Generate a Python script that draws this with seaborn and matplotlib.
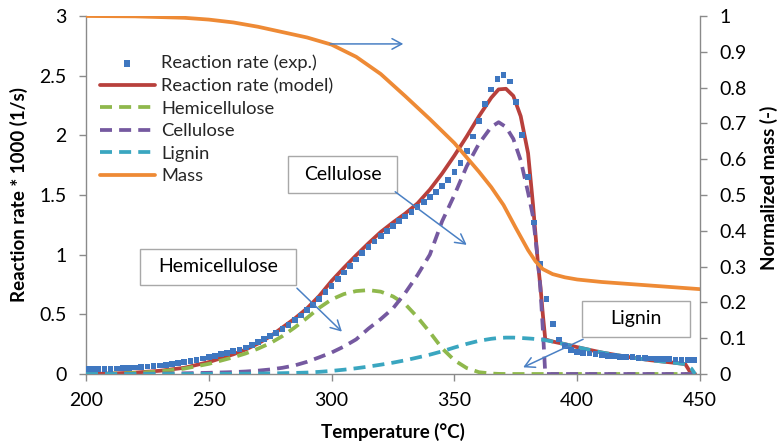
import numpy as np
import matplotlib
matplotlib.use("Agg")
import matplotlib.pyplot as plt
from matplotlib.patches import Rectangle
from matplotlib.ticker import FuncFormatter
import seaborn as sns

# ---------------------------------------------------------------- data
# Measured reaction rate (x1000, 1/s), sampled every 2.5 degC from 200 to 447.5
T_exp = np.arange(200.0, 450.0, 2.5)
rate_exp = [
    0.040, 0.041, 0.042, 0.043, 0.044, 0.046, 0.048, 0.051, 0.054, 0.058,   # 200-222.5
    0.062, 0.067, 0.072, 0.078, 0.085, 0.093, 0.101, 0.110, 0.120, 0.131,   # 225-247.5
    0.142, 0.153, 0.165, 0.177, 0.190, 0.205, 0.222, 0.245, 0.268, 0.292,   # 250-272.5
    0.318, 0.346, 0.377, 0.411, 0.450, 0.490, 0.535, 0.580, 0.630, 0.685,   # 275-297.5
    0.740, 0.795, 0.850, 0.905, 0.960, 1.015, 1.065, 1.110, 1.155, 1.200,   # 300-322.5
    1.240, 1.280, 1.320, 1.360, 1.400, 1.442, 1.485, 1.528, 1.573, 1.625,   # 325-347.5
    1.690, 1.770, 1.870, 1.990, 2.120, 2.260, 2.385, 2.470, 2.505, 2.450,   # 350-372.5
    2.280, 2.000, 1.650, 1.270, 0.920, 0.630, 0.420, 0.290, 0.235, 0.203,   # 375-397.5
    0.185, 0.178, 0.172, 0.165, 0.158, 0.153, 0.149, 0.145, 0.142, 0.140,   # 400-422.5
    0.137, 0.134, 0.131, 0.128, 0.125, 0.123, 0.121, 0.120, 0.119, 0.118,   # 425-447.5
]

# Model curves (x1000, 1/s)
T_model = [
    200, 210, 220, 230, 240, 250, 260, 265,
    270, 275, 280, 285, 290, 295, 300, 305,
    310, 315, 320, 325, 330, 335, 340, 345,
    350, 355, 360, 365, 368, 371, 374, 377,
    380, 382, 384, 385, 386, 387, 390, 395,
    400, 410, 420, 430, 440, 444, 446.5, 448,
]
rate_model = [
    0.000, 0.004, 0.012, 0.027, 0.052, 0.100, 0.165, 0.205,
    0.255, 0.315, 0.390, 0.465, 0.550, 0.655, 0.780, 0.890,
    0.995, 1.095, 1.190, 1.270, 1.345, 1.430, 1.545, 1.680,
    1.830, 1.990, 2.160, 2.315, 2.385, 2.390, 2.330, 2.160,
    1.850, 1.420, 0.930, 0.740, 0.500, 0.290, 0.272, 0.250,
    0.225, 0.180, 0.145, 0.115, 0.093, 0.083, 0.000, 0.000,
]
hemicellulose = [
    0.000, 0.003, 0.009, 0.021, 0.045, 0.085, 0.140, 0.172,
    0.212, 0.258, 0.318, 0.390, 0.470, 0.555, 0.625, 0.670,
    0.695, 0.703, 0.690, 0.650, 0.585, 0.475, 0.350, 0.215,
    0.115, 0.050, 0.015, 0.004, 0.001, 0.000, 0.000, 0.000,
    0.000, 0.000, 0.000, 0.000, 0.000, 0.000, 0.000, 0.000,
    0.000, 0.000, 0.000, 0.000, 0.000, 0.000, 0.000, 0.000,
]
cellulose = [
    0.000, 0.000, 0.001, 0.003, 0.006, 0.010, 0.016, 0.021,
    0.028, 0.038, 0.052, 0.072, 0.102, 0.140, 0.180, 0.230,
    0.290, 0.380, 0.460, 0.550, 0.680, 0.830, 1.000, 1.280,
    1.500, 1.740, 1.930, 2.070, 2.110, 2.070, 1.970, 1.790,
    1.520, 1.320, 0.950, 0.720, 0.380, 0.000, 0.000, 0.000,
    0.000, 0.000, 0.000, 0.000, 0.000, 0.000, 0.000, 0.000,
]
lignin = [
    0.000, 0.000, 0.000, 0.000, 0.000, 0.001, 0.002, 0.003,
    0.004, 0.005, 0.007, 0.009, 0.012, 0.018, 0.026, 0.036,
    0.048, 0.062, 0.078, 0.095, 0.115, 0.138, 0.162, 0.190,
    0.222, 0.252, 0.278, 0.295, 0.302, 0.305, 0.305, 0.302,
    0.298, 0.295, 0.291, 0.289, 0.287, 0.284, 0.272, 0.250,
    0.225, 0.180, 0.145, 0.115, 0.093, 0.083, 0.045, 0.000,
]

# Normalized sample mass (right axis)
T_mass = [200, 220, 240, 250, 260, 270, 280, 290, 300, 310,
          320, 330, 340, 350, 360, 365, 370, 375, 380, 383,
          386, 390, 395, 400, 410, 420, 430, 440, 450]
mass = [1.000, 0.999, 0.995, 0.990, 0.982, 0.970, 0.955, 0.940, 0.920, 0.886,
        0.838, 0.776, 0.712, 0.645, 0.565, 0.522, 0.472, 0.408, 0.346, 0.315,
        0.293, 0.279, 0.270, 0.264, 0.257, 0.252, 0.247, 0.242, 0.237]

x_ticks = [200, 250, 300, 350, 400, 450]
y_ticks = [0, 0.5, 1, 1.5, 2, 2.5, 3]
y2_ticks = [0, 0.1, 0.2, 0.3, 0.4, 0.5, 0.6, 0.7, 0.8, 0.9, 1]

# ---------------------------------------------------------------- style
sns.set_style("ticks")
plt.rcParams["font.family"] = ["Lato", "DejaVu Sans"]

C_EXP = "#3f77c0"
C_MODEL = "#b8403c"
C_HEMI = "#8fb84c"
C_CELL = "#7559a0"
C_LIG = "#3aa6c0"
C_MASS = "#ee8a35"
C_ARROW = "#4a80c4"
C_AXIS = "#8a8a8a"

fig = plt.figure(figsize=(7.77, 4.48), dpi=100)
ax = fig.add_axes([86 / 777, 1 - 374 / 448, 614 / 777, 358 / 448])
ax2 = ax.twinx()

LW = 2.7
DASH = (0, (3.2, 1.9))

sns.lineplot(x=T_model, y=rate_model, ax=ax, color=C_MODEL, linewidth=LW,
             label="Reaction rate (model)", legend=False, zorder=2,
             estimator=None, sort=False)
sns.lineplot(x=T_model, y=hemicellulose, ax=ax, color=C_HEMI, linewidth=LW,
             linestyle=DASH, label="Hemicellulose", legend=False, zorder=3,
             estimator=None, sort=False)
sns.lineplot(x=T_model, y=cellulose, ax=ax, color=C_CELL, linewidth=LW,
             linestyle=DASH, label="Cellulose", legend=False, zorder=4,
             estimator=None, sort=False)
sns.lineplot(x=T_model, y=lignin, ax=ax, color=C_LIG, linewidth=LW,
             linestyle=DASH, label="Lignin", legend=False, zorder=5,
             estimator=None, sort=False)
sns.scatterplot(x=T_exp, y=rate_exp, ax=ax, marker="s", s=17, color=C_EXP,
                linewidth=0, edgecolor="none", label="Reaction rate (exp.)",
                legend=False, zorder=6)
sns.lineplot(x=T_mass, y=mass, ax=ax2, color=C_MASS, linewidth=LW,
             label="Mass", legend=False, estimator=None, sort=False)

# ---------------------------------------------------------------- axes
ax.set_xlim(200, 450)
ax.set_ylim(0, 3)
ax2.set_ylim(0, 1)
ax.set_xticks(x_ticks)
ax.set_yticks(y_ticks)
ax2.set_yticks(y2_ticks)
fmt = FuncFormatter(lambda v, _: f"{v:g}")
ax.yaxis.set_major_formatter(fmt)
ax2.yaxis.set_major_formatter(fmt)
ax.xaxis.set_major_formatter(fmt)

for a in (ax, ax2):
    for s in a.spines.values():
        s.set_color(C_AXIS)
        s.set_linewidth(1.0)
    a.spines["top"].set_visible(False)
ax.spines["right"].set_visible(False)
ax2.spines["left"].set_visible(False)
ax2.spines["bottom"].set_visible(False)

TICK_FS = 14
ax.tick_params(axis="x", direction="out", length=5, width=1, color=C_AXIS,
               labelsize=TICK_FS, labelcolor="black", pad=8)
ax.tick_params(axis="y", direction="out", length=5, width=1, color=C_AXIS,
               labelsize=TICK_FS, labelcolor="black", pad=9)
ax2.tick_params(axis="y", direction="out", length=5, width=1, color=C_AXIS,
                labelsize=TICK_FS, labelcolor="black", pad=9)

LABEL_FS = 13.5
ax.set_xlabel("Temperature (°C)", fontsize=LABEL_FS, fontweight="bold",
              color="black")
ax.set_ylabel("Reaction rate * 1000 (1/s)", fontsize=LABEL_FS,
              fontweight="bold", color="black")
ax2.set_ylabel("Normalized mass (-)", fontsize=LABEL_FS, fontweight="bold",
               color="black")
ax.xaxis.set_label_coords(0.5, -0.138)
ax.yaxis.set_label_coords(-0.095, 0.5)
ax2.yaxis.set_label_coords(1.097, 0.52)

# ---------------------------------------------------------------- legend
h1, l1 = ax.get_legend_handles_labels()
h2, l2 = ax2.get_legend_handles_labels()
lookup = dict(zip(l1 + l2, h1 + h2))
order = ["Reaction rate (exp.)", "Reaction rate (model)", "Hemicellulose",
         "Cellulose", "Lignin", "Mass"]
ax2.legend([lookup[k] for k in order], order, loc="upper left",
           bbox_to_anchor=(0.022, 0.892), frameon=False, fontsize=13.2,
           handlelength=3.0, handletextpad=0.35, labelspacing=0.36,
           borderpad=0, borderaxespad=0, scatterpoints=1, markerscale=1.1)

# ---------------------------------------------------------------- callouts
arrow_kw = dict(arrowstyle="->,head_length=0.7,head_width=0.38",
                color=C_ARROW, lw=1.1, shrinkA=0, shrinkB=0)


def callout(text, x0, x1, y0, y1):
    ax2.add_patch(Rectangle((x0, y0), x1 - x0, y1 - y0, transform=ax.transData,
                            facecolor="white", edgecolor="#a8a8a8", lw=1.0,
                            zorder=8))
    ax2.text((x0 + x1) / 2, (y0 + y1) / 2, text, transform=ax.transData,
             ha="center", va="center", fontsize=14, color="black", zorder=9)


def arrow(start, end):
    ax2.annotate("", xy=end, xytext=start, xycoords=ax.transData,
                 textcoords=ax.transData, arrowprops=arrow_kw, zorder=10)


callout("Cellulose", 282.4, 326.6, 1.518, 1.829)
callout("Hemicellulose", 221.9, 285.7, 0.747, 1.049)
callout("Lignin", 401.8, 445.8, 0.308, 0.615)

arrow((299.4, 2.766), (329.2, 2.766))
arrow((325.9, 1.527), (355.0, 1.082))
arrow((285.9, 0.719), (304.2, 0.355))
arrow((402.4, 0.291), (378.0, 0.056))

fig.savefig("out.png", dpi=100)
